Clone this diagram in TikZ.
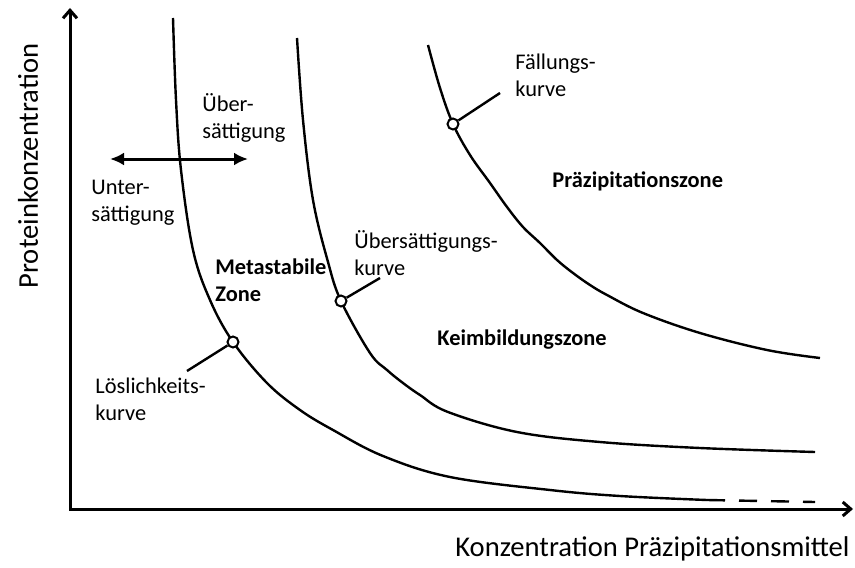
\documentclass[tikz,border=0pt]{standalone}
\usepackage{fontspec}
\setmainfont{Carlito}
\usepackage{tikz}
\usetikzlibrary{arrows.meta}
\tikzset{
  lbl/.style={font=\fontsize{11.2}{13.5}\selectfont,align=left,anchor=west,inner sep=0pt},
  zone/.style={lbl,font=\fontsize{11.2}{13.5}\selectfont\bfseries},
  axlbl/.style={font=\fontsize{14.3}{16}\selectfont,inner sep=0pt},
  ring/.style={circle,draw,fill=white,line width=1pt,minimum size=5.5pt,inner sep=0pt},
  kurve/.style={line width=1.2pt}
}

\begin{document}
\begin{tikzpicture}[x=0.5pt,y=-0.5pt,>={Latex[length=7pt,width=6.5pt]}]
\useasboundingbox (0,0) rectangle (855,567);
\coordinate (O) at (70,509); \coordinate (Y) at (70,8); \coordinate (X) at (853,509);
\draw[{Straight Barb[length=4pt,width=7pt]}-{Straight Barb[length=4pt,width=7pt]},line width=1.5pt] (Y)--(O)--(X);
\node[axlbl,rotate=90] (ylab) at (28,166) {Proteinkonzentration};
\node[axlbl,anchor=east] (xlab) at (850,549) {Konzentration Präzipitationsmittel};
% Kurven
\draw[kurve] plot[smooth,tension=.6] coordinates {(173,18) (176,100) (181,170) (193,250) (210,300) (233,342) (267,383) (300,410) (333,430) (383,456) (450,477) (550,490) (620,496) (707,500)} coordinate (loesEnd);
\coordinate (loesTail) at (815,502);
\draw[kurve,dash pattern=on 9pt off 7pt] (loesEnd)--(loesTail);
\draw[kurve] plot[smooth,tension=.6] coordinates {(297,38) (303,120) (313,200) (328,262) (341,301) (370,353) (387,370) (403,383) (420,395) (448,412) (517,432) (600,442) (700,448) (815,452)};
\draw[kurve] plot[smooth,tension=.6] coordinates {(428,45) (440,88) (453,124) (470,155) (490,183) (507,207) (523,227) (540,243) (557,260) (573,273) (590,285) (607,295) (643,313) (700,333) (767,350) (820,358)};
% Markierungen
\node[ring] (c1) at (233,342) {}; \coordinate (l1) at (187,371);
\node[ring] (c2) at (341,301) {}; \coordinate (l2) at (380,278);
\node[ring] (c3) at (453,124) {}; \coordinate (l3) at (500,93);
\draw[line width=1.2pt] (c1)--(l1) (c2)--(l2) (c3)--(l3);
% Doppelpfeil
\coordinate (pl) at (110,159); \coordinate (pr) at (248,159);
\draw[<->,line width=1.5pt] (pl)--(pr);
% Beschriftungen
\node[lbl] (ueber) at (202,118) {Über-\\sättigung};
\node[lbl] (unter) at (91,203) {Unter-\\sättigung};
\node[zone] (meta) at (215,280) {Metastabile\\Zone};
\node[lbl] (uekurve) at (354,253) {Übersättigungs-\\kurve};
\node[lbl] (loes) at (95,399) {Löslichkeits-\\kurve};
\node[lbl] (faell) at (515,75) {Fällungs-\\kurve};
\node[zone] (praez) at (552,181) {Präzipitationszone};
\node[zone] (keim) at (437,340) {Keimbildungszone};
\end{tikzpicture}
\end{document}
